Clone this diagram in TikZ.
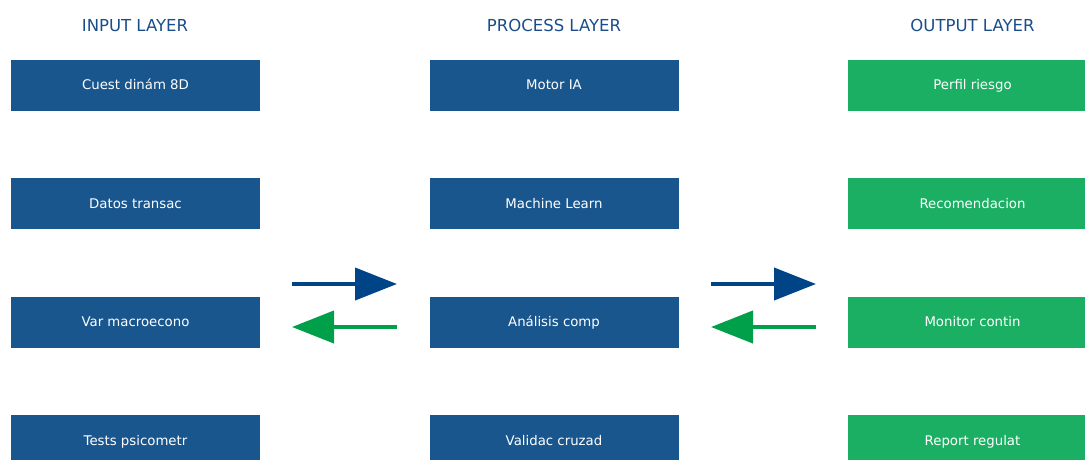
\documentclass[tikz,border=0pt]{standalone}
\usepackage{fontspec}
\setmainfont{DejaVu Sans}
\usetikzlibrary{arrows.meta}
\definecolor{boxblue}{HTML}{1A568E}
\definecolor{boxgreen}{HTML}{1AAF62}
\definecolor{headblue}{HTML}{1A4E8A}
\definecolor{arrblue}{HTML}{004488}
\definecolor{arrgreen}{HTML}{00A04A}
\tikzset{
  layerbox/.style={minimum width=249pt, minimum height=51pt, inner sep=0pt,
    text=white, font=\fontsize{13.3}{15}\selectfont,
    text height=9.8pt, text depth=0.6pt},
  inbox/.style={layerbox, fill=boxblue},
  outbox/.style={layerbox, fill=boxgreen},
  header/.style={text=headblue, font=\fontsize{16.5}{19}\selectfont,
    text height=12pt, text depth=0.5pt},
  flow/.style={line width=4pt, -{Triangle[length=42pt,width=32pt]}},
}
\begin{document}
\begin{tikzpicture}[x=1pt,y=-1pt]
\useasboundingbox (0,0) rectangle (1085,459);
\clip (0,0) rectangle (1085,459);
% column headers
\node[header] (h1) at (135,26) {INPUT LAYER};
\node[header] (h2) at (554,26) {PROCESS LAYER};
\node[header] (h3) at (972.5,26) {OUTPUT LAYER};
% input column
\node[inbox] (i1) at (135.5,85) {Cuest dinám 8D};
\node[inbox] (i2) at (135.5,203.5) {Datos transac};
\node[inbox] (i3) at (135.5,322) {Var macroecono};
\node[inbox] (i4) at (135.5,440.5) {Tests psicometr};
% process column
\node[inbox] (p1) at (554,85) {Motor IA};
\node[inbox] (p2) at (554,203.5) {Machine Learn};
\node[inbox] (p3) at (554,322) {Análisis comp};
\node[inbox] (p4) at (554,440.5) {Validac cruzad};
% output column
\node[outbox] (o1) at (972.5,85) {Perfil riesgo};
\node[outbox] (o2) at (972.5,203.5) {Recomendacion};
\node[outbox] (o3) at (972.5,322) {Monitor contin};
\node[outbox] (o4) at (972.5,440.5) {Report regulat};
% flow arrows between columns
\coordinate (a1l) at (292,284);
\coordinate (a1r) at (397,284);
\coordinate (b1l) at (292,327);
\coordinate (b1r) at (397,327);
\coordinate (a2l) at (711,284);
\coordinate (a2r) at (816,284);
\coordinate (b2l) at (711,327);
\coordinate (b2r) at (816,327);
\draw[flow, arrblue] (a1l) -- (a1r);
\draw[flow, arrgreen] (b1r) -- (b1l);
\draw[flow, arrblue] (a2l) -- (a2r);
\draw[flow, arrgreen] (b2r) -- (b2l);
\end{tikzpicture}
\end{document}
